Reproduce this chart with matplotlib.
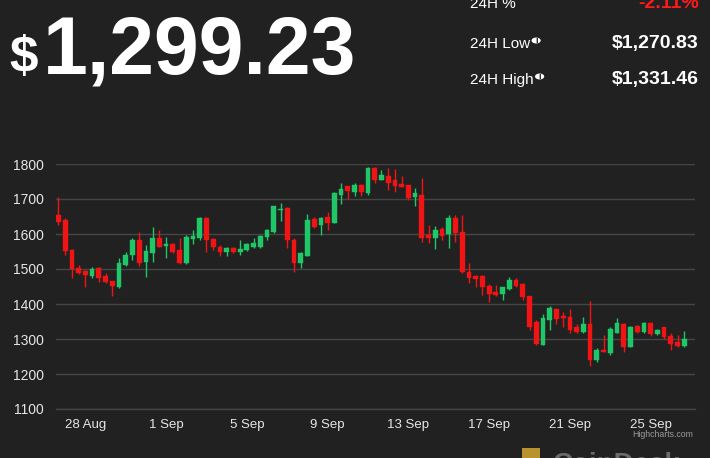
import matplotlib
matplotlib.use("Agg")
import matplotlib.pyplot as plt
import matplotlib.dates as mdates
from matplotlib.patches import Circle, Rectangle
import pandas as pd
import numpy as np

# ---------------- data ----------------
start_time = "2022-08-26 16:00"
freq = "8h"
opens = [1655, 1639, 1555, 1502, 1495, 1481, 1502, 1480, 1466, 1449,
         1511, 1540, 1583, 1521, 1545, 1588, 1566, 1571, 1555, 1516,
         1586, 1588, 1645, 1585, 1564, 1550, 1561, 1548, 1554, 1564,
         1564, 1591, 1607, 1668, 1674, 1583, 1517, 1537, 1642, 1626,
         1650, 1631, 1712, 1736, 1719, 1741, 1717, 1788, 1753, 1767,
         1753, 1744, 1741, 1707, 1712, 1597, 1588, 1614, 1600, 1645,
         1605, 1492, 1480, 1479, 1451, 1435, 1430, 1442, 1468, 1457,
         1423, 1349, 1284, 1354, 1387, 1365, 1362, 1335, 1321, 1344,
         1239, 1270, 1260, 1318, 1344, 1278, 1337, 1321, 1346, 1313,
         1333, 1308, 1292, 1280]
highs = [1707, 1645, 1558, 1512, 1497, 1507, 1507, 1488, 1467, 1531,
         1550, 1590, 1607, 1569, 1621, 1612, 1591, 1574, 1588, 1597,
         1612, 1650, 1648, 1588, 1569, 1564, 1564, 1583, 1574, 1588,
         1597, 1614, 1681, 1688, 1676, 1588, 1550, 1657, 1650, 1650,
         1664, 1719, 1747, 1738, 1747, 1744, 1791, 1791, 1784, 1788,
         1786, 1767, 1741, 1731, 1760, 1626, 1623, 1619, 1655, 1655,
         1655, 1517, 1483, 1482, 1457, 1454, 1450, 1476, 1473, 1459,
         1423, 1354, 1371, 1394, 1390, 1378, 1385, 1342, 1362, 1408,
         1273, 1311, 1335, 1359, 1346, 1337, 1340, 1349, 1348, 1330,
         1335, 1316, 1311, 1323]
lows = [1626, 1540, 1473, 1486, 1450, 1473, 1464, 1461, 1424, 1445,
        1509, 1526, 1509, 1476, 1521, 1562, 1531, 1545, 1514, 1514,
        1571, 1583, 1550, 1555, 1537, 1537, 1547, 1540, 1552, 1559,
        1561, 1583, 1602, 1636, 1559, 1492, 1502, 1537, 1617, 1597,
        1612, 1631, 1686, 1700, 1709, 1709, 1712, 1747, 1753, 1726,
        1719, 1734, 1698, 1679, 1578, 1574, 1557, 1583, 1561, 1578,
        1489, 1459, 1448, 1427, 1406, 1423, 1411, 1440, 1449, 1411,
        1327, 1282, 1283, 1325, 1344, 1333, 1318, 1318, 1318, 1222,
        1234, 1263, 1254, 1316, 1263, 1276, 1316, 1318, 1309, 1311,
        1301, 1270, 1278, 1278]
closes = [1633, 1552, 1500, 1490, 1483, 1499, 1473, 1464, 1451, 1516,
          1540, 1583, 1516, 1550, 1588, 1564, 1571, 1550, 1516, 1591,
          1595, 1645, 1583, 1564, 1550, 1559, 1550, 1557, 1571, 1574,
          1595, 1612, 1679, 1672, 1583, 1516, 1547, 1640, 1621, 1647,
          1631, 1717, 1728, 1722, 1741, 1719, 1788, 1753, 1769, 1745,
          1738, 1734, 1703, 1717, 1588, 1588, 1612, 1595, 1645, 1604,
          1491, 1473, 1471, 1449, 1430, 1427, 1448, 1470, 1451, 1419,
          1335, 1285, 1359, 1390, 1356, 1359, 1327, 1321, 1344, 1239,
          1268, 1263, 1330, 1346, 1278, 1335, 1321, 1346, 1313, 1327,
          1306, 1287, 1280, 1299]
x_tick_dates = ["2022-08-28", "2022-09-01", "2022-09-05", "2022-09-09",
                "2022-09-13", "2022-09-17", "2022-09-21", "2022-09-25"]
x_tick_labels = ["28 Aug", "1 Sep", "5 Sep", "9 Sep", "13 Sep", "17 Sep", "21 Sep", "25 Sep"]
y_ticks = [1100, 1200, 1300, 1400, 1500, 1600, 1700, 1800]

price_text = "1,299.23"
stat_labels = ["24H %", "24H Low", "24H High"]
stat_values = ["-2.11%", "$1,270.83", "$1,331.46"]

# ---------------- style ----------------
BG = "#212121"
GRID = "#454545"
UP = "#1fc768"
DOWN = "#f01414"
TXT = "#e6e6e6"

W, H = 710, 458
fig = plt.figure(figsize=(W / 100, H / 100), dpi=100, facecolor=BG)
ax = fig.add_axes([56 / W, 49 / H, 639 / W, 245 / H])
ax.set_facecolor(BG)

times = pd.date_range(start_time, periods=len(opens), freq=freq)
xs = mdates.date2num(times.to_pydatetime())
o = np.array(opens, float)
h = np.array(highs, float)
l = np.array(lows, float)
c = np.array(closes, float)
up = c >= o
colors = np.where(up, UP, DOWN)

body_w = 0.235
ax.vlines(xs, l, h, colors=colors, linewidth=1.0, zorder=2)
bottom = np.minimum(o, c)
height = np.maximum(np.abs(c - o), 3.0)
ax.bar(xs, height, bottom=bottom, width=body_w, color=colors, edgecolor=colors,
       linewidth=0.3, zorder=3)

ax.set_ylim(1100, 1800)
ax.set_yticks(y_ticks)
ax.set_xlim(xs[0] - 0.12, xs[-1] + 0.53)
ax.set_xticks(mdates.date2num(pd.to_datetime(x_tick_dates).to_pydatetime()))
ax.set_xticklabels(x_tick_labels)

ax.grid(axis="y", color=GRID, linewidth=1.0, zorder=0)
ax.grid(axis="x", visible=False)
for s in ["top", "right", "left"]:
    ax.spines[s].set_visible(False)
ax.spines["bottom"].set_color(GRID)
ax.spines["bottom"].set_linewidth(1.0)
ax.tick_params(axis="both", length=0, colors=TXT)
ax.tick_params(axis="y", pad=9, labelsize=10)
ax.tick_params(axis="x", pad=7, labelsize=9.5)
for t in ax.get_xticklabels() + ax.get_yticklabels():
    t.set_fontfamily("Liberation Sans")

fig.text(693 / W, 1 - 437 / H, "Highcharts.com", color="#9a9a9a", fontsize=6.3,
         ha="right", va="baseline", family="Liberation Sans")

# ---------------- header ----------------
def ftxt(px, py, s, **kw):
    return fig.text(px / W, 1 - py / H, s, **kw)

ftxt(9, 72, "$", color="white", fontsize=37, fontweight="bold",
     family="Liberation Sans", ha="left", va="baseline")
ftxt(43, 74, price_text, color="white", fontsize=58, fontweight="bold",
     family="Liberation Sans", ha="left", va="baseline")

rows_y = [8, 48, 84]
label_texts = []
for lab, val, yy in zip(stat_labels, stat_values, rows_y):
    label_texts.append(ftxt(470, yy, lab, color="white", fontsize=11,
                            family="Liberation Sans", ha="left", va="baseline"))
    vcol = "#ff1a1a" if val.startswith("-") else "white"
    ftxt(699, yy, val, color=vcol, fontsize=14, fontweight="bold",
         family="Liberation Sans", ha="right", va="baseline")

# info icons after "24H Low" and "24H High"
fig.canvas.draw()
renderer = fig.canvas.get_renderer()
for t, yy in zip(label_texts[1:], rows_y[1:]):
    bb = t.get_window_extent(renderer)
    cx = bb.x1 + 6
    cy = yy - 7.5
    circ = Circle((cx / W, 1 - cy / H), radius=4.6 / W, transform=fig.transFigure,
                  facecolor="white", edgecolor="none")
    fig.patches.append(circ)
    fig.text(cx / W, 1 - cy / H, "i", color=BG, fontsize=6.5, fontweight="bold",
             family="Liberation Sans", ha="center", va="center")

# CoinDesk watermark (cut at bottom)
fig.patches.append(Rectangle((522 / W, 0), 18 / W, 10 / H, transform=fig.transFigure,
                             facecolor="#b8922e", edgecolor="none"))
ftxt(553, 472, "CoinDesk", color="#6b6b6b", fontsize=20, fontweight="bold",
     family="Liberation Sans", ha="left", va="baseline")

fig.savefig("out.png", dpi=100, facecolor=BG)
